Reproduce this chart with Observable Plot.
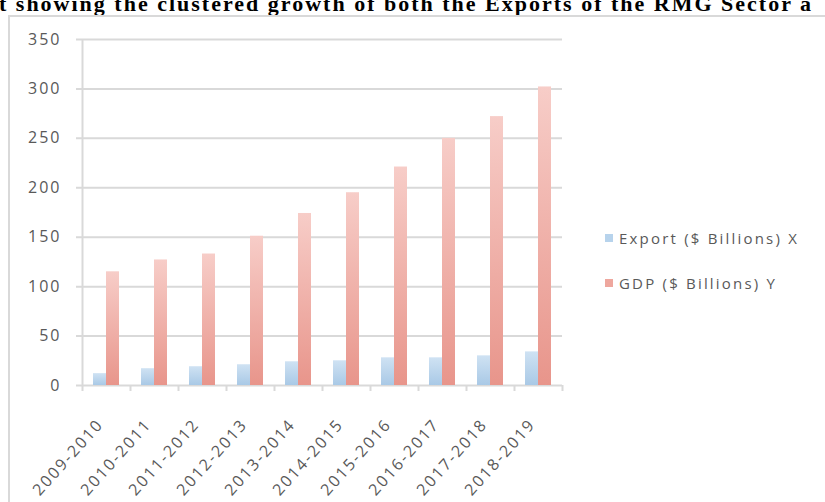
<!DOCTYPE html>
<html>
<head>
<meta charset="utf-8">
<script src="https://cdn.jsdelivr.net/npm/d3@7"></script>
<script src="https://cdn.jsdelivr.net/npm/@observablehq/plot@0.6"></script>
<style>
  html, body { margin: 0; padding: 0; background: #fff; width: 825px; height: 502px; overflow: hidden; }
  #title { position: relative; height: 15px; overflow: hidden; white-space: nowrap; }
  #title span { position: absolute; left: -1px; top: -7px; font-family: "Liberation Serif", serif; font-weight: bold; font-size: 22px; line-height: 22px; letter-spacing: 2px; color: #000; }
  #wrap { position: relative; margin-left: 8px; border-left: 2px solid #d9d9d9; border-top: 2px solid #d9d9d9; height: 485px; }
  #wrap svg text { letter-spacing: 2px; }
  .leg { position: absolute; font-family: "Open Sans", sans-serif; font-size: 15px; color: #595959; letter-spacing: 2.2px; white-space: nowrap; line-height: 20px; }
  .leg i { display: inline-block; width: 8px; height: 8px; margin-right: 6px; vertical-align: 2px; }
</style>
</head>
<body>
<div id="title"><span>t showing the clustered growth of both the Exports of the RMG Sector a</span></div>
<div id="wrap"></div>
<script>
const years = ["2009-2010","2010-2011","2011-2012","2012-2013","2013-2014","2014-2015","2015-2016","2016-2017","2017-2018","2018-2019"];
const exportVals = [12, 17, 19, 21, 24, 25, 28, 28, 30, 34];
const gdpVals = [115, 127, 133, 151, 174, 195, 221, 250, 272, 302];
const yTicks = [0, 50, 100, 150, 200, 250, 300, 350];
const seriesNames = ["Export ($ Billions)  X", "GDP  ($ Billions) Y"];
const seriesColors = ["#b7d3ec", "#eea79e"];

const rows = years.map((y, i) => ({year: y, exp: exportVals[i], gdp: gdpVals[i]}));

const W = 815, H = 485, ML = 72, MR = 263, MT = 22, MB = 117;
const step = (W - ML - MR) / years.length;
const grid = "#d9d9d9";

const chart = Plot.plot({
  width: W, height: H,
  marginLeft: ML, marginRight: MR, marginTop: MT, marginBottom: MB,
  style: {fontFamily: "Open Sans, sans-serif", fontSize: "16px", color: "#595959", background: "transparent"},
  x: {domain: years, padding: 0, label: null},
  y: {domain: [0, 350], label: null},
  marks: [
    Plot.ruleY(yTicks, {stroke: grid, strokeWidth: 2, insetLeft: -6}),
    Plot.ruleX([years[0]], {dx: -step / 2, y1: 0, y2: 350, stroke: grid, strokeWidth: 2}),
    Plot.barY(rows, {x: "year", y: "exp", fill: "url(#gBlue)", insetLeft: 11, insetRight: 24}),
    Plot.barY(rows, {x: "year", y: "gdp", fill: "url(#gRed)", insetLeft: 24, insetRight: 11}),
    Plot.axisY({ticks: yTicks, tickSize: 0, tickPadding: 21, fill: "#595959"}),
    Plot.axisX({tickSize: 0, tickRotate: -48, tickPadding: 36, dx: -6, fill: "#595959"}),
    Plot.axisX({tickSize: 6, dx: -step / 2, tickFormat: () => "", stroke: grid, strokeWidth: 2}),
    Plot.axisX({ticks: [years[years.length - 1]], tickSize: 6, dx: step / 2, tickFormat: () => "", stroke: grid, strokeWidth: 2})
  ]
});

const defs = d3.select(chart).insert("defs", ":first-child");
const gb = defs.append("linearGradient").attr("id", "gBlue").attr("x1", 0).attr("y1", 0).attr("x2", 0).attr("y2", 1);
gb.append("stop").attr("offset", "0%").attr("stop-color", "#cfe2f3");
gb.append("stop").attr("offset", "100%").attr("stop-color", "#a9c9e6");
const gr = defs.append("linearGradient").attr("id", "gRed").attr("x1", 0).attr("y1", 0).attr("x2", 0).attr("y2", 1);
gr.append("stop").attr("offset", "0%").attr("stop-color", "#f7cdc8");
gr.append("stop").attr("offset", "100%").attr("stop-color", "#e8958b");

const wrap = document.getElementById("wrap");
wrap.appendChild(chart);

const legTops = [211, 256];
seriesNames.forEach((name, i) => {
  const d = document.createElement("div");
  d.className = "leg";
  d.style.left = "595px";
  d.style.top = legTops[i] + "px";
  const sw = document.createElement("i");
  sw.style.background = seriesColors[i];
  d.appendChild(sw);
  d.appendChild(document.createTextNode(name));
  wrap.appendChild(d);
});
</script>
</body>
</html>
